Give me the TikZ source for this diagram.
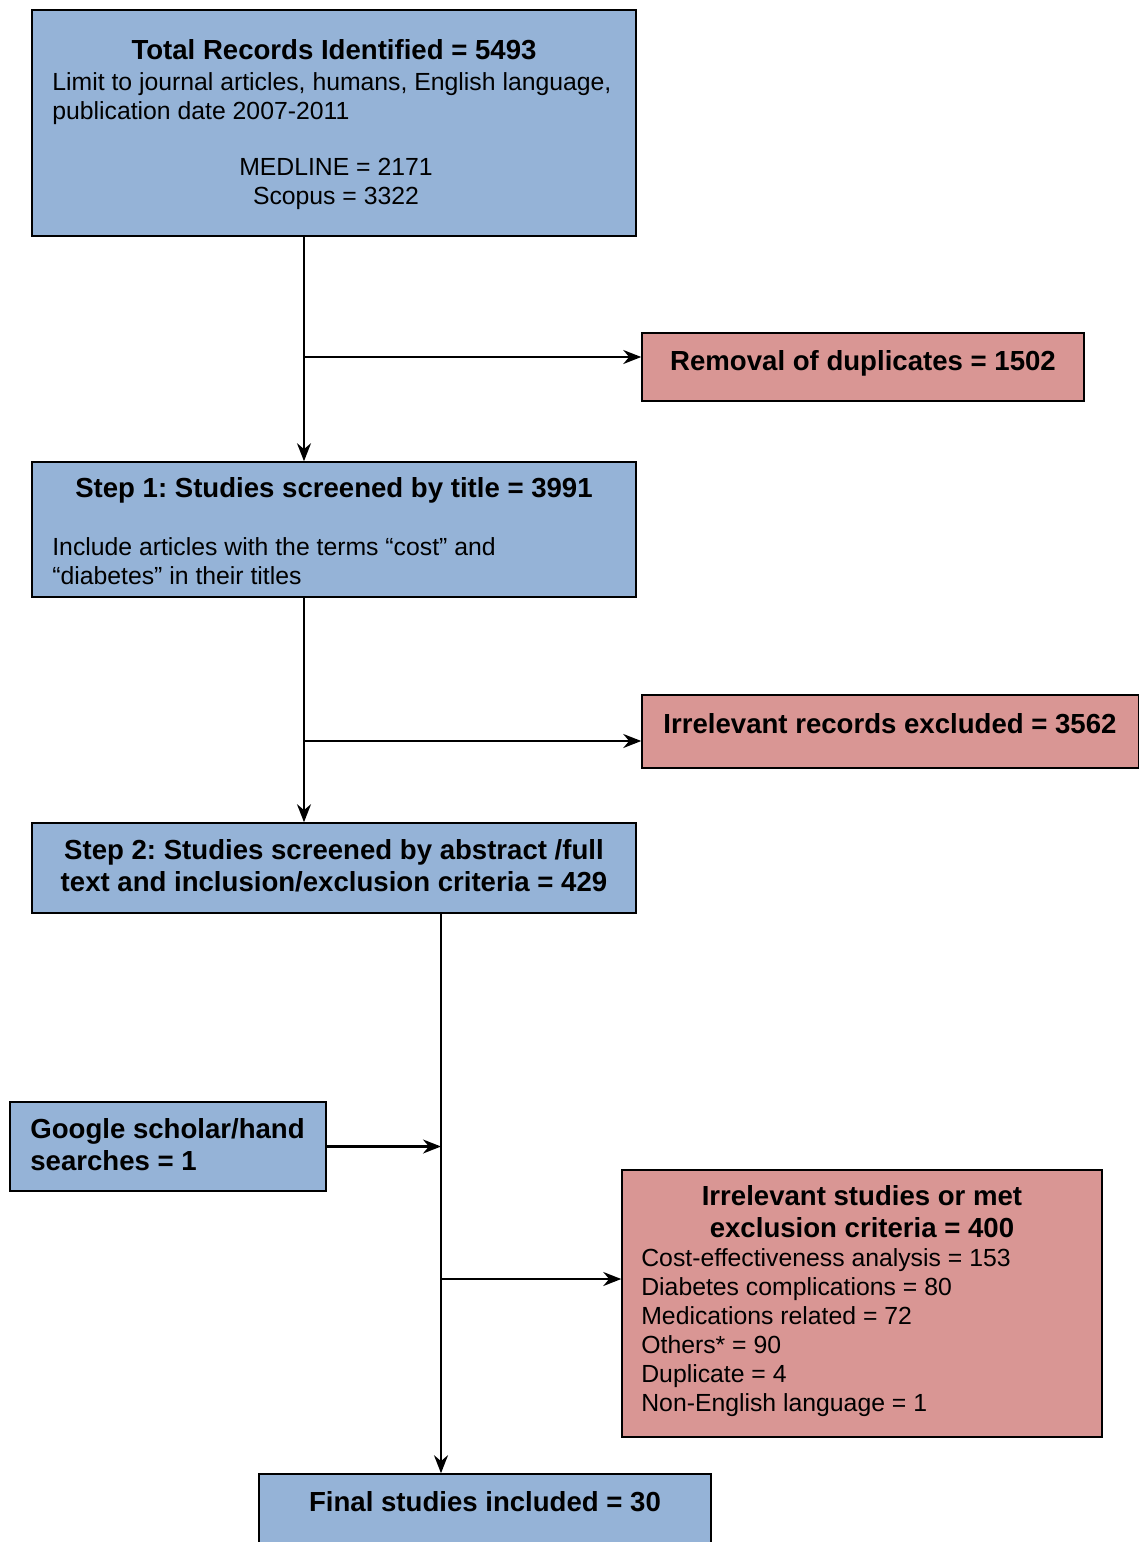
\documentclass[tikz,border=0pt]{standalone}
\usepackage{fontspec}
\setmainfont{Liberation Sans}
\frenchspacing
\usetikzlibrary{arrows.meta,positioning,calc}
\definecolor{boxblue}{RGB}{149,179,215}
\definecolor{boxpink}{RGB}{217,150,148}
\newcommand{\bodysize}{\fontsize{14.1}{16.5}\selectfont}
\newcommand{\headsize}{\fontsize{15.7}{18.2}\selectfont\bfseries}
\tikzset{
  stage/.style={draw=black,line width=0.9pt,fill=boxblue,inner sep=0pt},
  drop/.style={stage,fill=boxpink},
  head/.style={font=\headsize,align=center,inner sep=0pt},
  body/.style={font=\bodysize,align=left,inner sep=0pt},
  flow/.style={-{Stealth[length=3.6mm,width=2.8mm]},line width=1.2pt}
}

\begin{document}
\begin{tikzpicture}[x=0.02cm,y=-0.02cm]
  \useasboundingbox (0,0) rectangle (1139,1542);

  % boxes
  \node[stage,minimum width=12.08cm,minimum height=4.52cm] (total) at (334,123) {};
  \node[drop,minimum width=8.84cm,minimum height=1.36cm] (dup) at (863,367) {};
  \node[stage,minimum width=12.08cm,minimum height=2.70cm] (step1) at (334,529.5) {};
  \node[drop,minimum width=9.94cm,minimum height=1.46cm] (irrel) at (890.5,731.5) {};
  \node[stage,minimum width=12.08cm,minimum height=1.80cm] (step2) at (334,868) {};
  \node[stage,minimum width=6.32cm,minimum height=1.78cm] (google) at (168,1146.5) {};
  \node[drop,minimum width=9.60cm,minimum height=5.34cm] (excl) at (862,1303.5) {};
  \node[stage,minimum width=9.04cm,minimum height=1.80cm] (final) at (485,1519) {};

  % texts
  \node[head] (totalhead) at (334,50) {Total Records Identified = 5493};
  \node[body,anchor=west] (totallimit) at (52,99) {Limit to journal articles, humans, English language,\\publication date 2007-2011};
  \node[body,align=center] (totaldb) at (336,184) {MEDLINE = 2171\\Scopus = 3322};
  \node[head] (duphead) at (863,363) {Removal of duplicates = 1502};
  \node[head] (step1head) at (334,490) {Step 1: Studies screened by title = 3991};
  \node[body,anchor=west] (step1body) at (52,561) {Include articles with the terms “cost” and\\“diabetes” in their titles};
  \node[head] (irrelhead) at (890,724) {Irrelevant records excluded = 3562};
  \node[head] (step2head) at (334,866) {Step 2: Studies screened by abstract /full\\text and inclusion/exclusion criteria = 429};
  \node[head,anchor=west,align=left] (googlehead) at (30,1145) {Google scholar/hand\\searches = 1};
  \node[head] (exclhead) at (862,1212) {Irrelevant studies or met\\exclusion criteria = 400};
  \node[body,anchor=west] (exclbody) at (641,1333) {Cost-effectiveness analysis = 153\\Diabetes complications = 80\\Medications related = 72\\Others* = 90\\Duplicate = 4\\Non-English language = 1};
  \node[head] (finalhead) at (485,1502) {Final studies included = 30};

  % connectors
  \coordinate (spine1) at (304,357);
  \coordinate (spine2) at (304,741);
  \coordinate (spine3) at (441,1279);
  \draw[flow] (spine1 |- total.south) -- (spine1 |- step1.north);
  \draw[flow] (spine1) -- (spine1 -| dup.west);
  \draw[flow] (spine2 |- step1.south) -- (spine2 |- step2.north);
  \draw[flow] (spine2) -- (spine2 -| irrel.west);
  \draw[flow] (spine3 |- step2.south) -- (spine3 |- final.north);
  \draw[flow] (google.east) -- (google.east -| spine3);
  \draw[flow] (spine3) -- (spine3 -| excl.west);
\end{tikzpicture}
\end{document}
